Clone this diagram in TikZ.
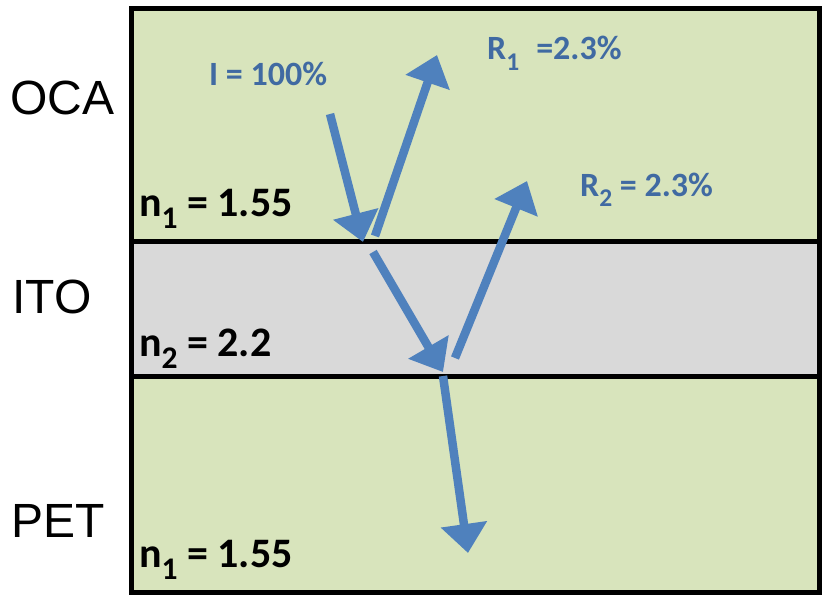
\documentclass[tikz,border=0pt]{standalone}
\usepackage{fontspec}
\setmainfont{Liberation Sans}
\newfontfamily\carlitofont{Carlito}
\usetikzlibrary{arrows.meta}
\definecolor{layergreen}{RGB}{216,228,188}
\definecolor{layergray}{RGB}{217,217,217}
\definecolor{rayblue}{RGB}{79,129,189}
\definecolor{textblue}{RGB}{64,106,162}
\newcommand{\lsub}[1]{\raisebox{-0.3em}{\scalebox{0.75}{#1}}}
\tikzset{
  ray/.style={draw=rayblue, line width=8.5pt, -{Triangle[length=29pt,width=45pt]}},
  layerlab/.style={anchor=base west, inner sep=0pt, font=\fontsize{48}{50}\selectfont},
  idxlab/.style={anchor=base west, inner sep=0pt, font=\carlitofont\bfseries\fontsize{42}{44}\selectfont},
  raylab/.style={anchor=base west, inner sep=0pt, text=textblue, font=\carlitofont\bfseries\fontsize{34}{36}\selectfont},
  border/.style={draw=black, line width=5pt}
}
\begin{document}
\begin{tikzpicture}[x=1pt,y=-1pt]
\useasboundingbox (0,0) rectangle (827,599);
% layers
\fill[layergreen] (131,9) rectangle (819,241);
\fill[layergray] (131,241) rectangle (819,376);
\fill[layergreen] (131,376) rectangle (819,592);
\draw[border] (131,241) -- (819,241);
\draw[border] (131,376) -- (819,376);
\draw[border] (131,9) rectangle (819,592);
% layer names
\node[layerlab] (oca) at (10,115) {OCA};
\node[layerlab] (ito) at (12,313) {ITO};
\node[layerlab] (pet) at (11,537) {PET};
% indices
\node[idxlab] (n1a) at (139,216) {n\lsub{1} = 1.55};
\node[idxlab] (n2) at (139,356) {n\lsub{2} = 2.2};
\node[idxlab] (n1b) at (139,567) {n\lsub{1} = 1.55};
% ray labels
\node[raylab] (I) at (209,86) {I = 100\%};
\node[raylab] (R1) at (487,60) {R\lsub{1}\hspace{0.5em}=2.3\%};
\node[raylab] (R2) at (580,196) {R\lsub{2} = 2.3\%};
% ray coordinates
\coordinate (inS) at (330,114);
\coordinate (inE) at (363,242);
\coordinate (r1S) at (375,236);
\coordinate (r1E) at (437,55);
\coordinate (t1S) at (373,252);
\coordinate (t1E) at (443,372);
\coordinate (r2S) at (455,358);
\coordinate (r2E) at (527,181);
\coordinate (t2S) at (443,376);
\coordinate (t2E) at (468,553);
\draw[ray] (inS) -- (inE);
\draw[ray] (r1S) -- (r1E);
\draw[ray] (t1S) -- (t1E);
\draw[ray] (r2S) -- (r2E);
\draw[ray] (t2S) -- (t2E);
\end{tikzpicture}
\end{document}
